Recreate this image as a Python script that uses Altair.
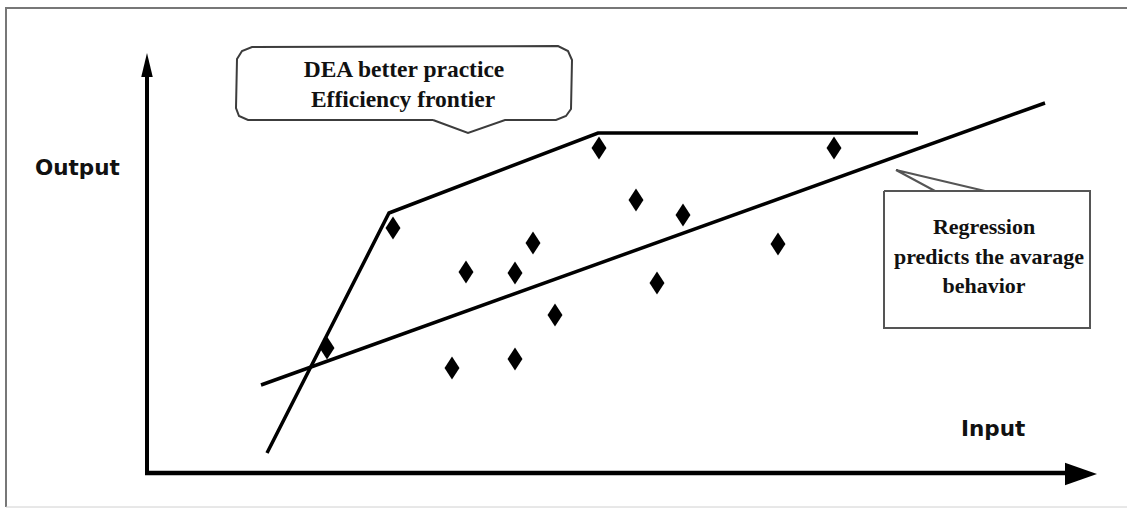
import altair as alt
import pandas as pd

W, H = 1127, 508

# All coordinates (pixel-like units, y grows downward)
# DEA frontier vertices
dea_x = [267, 389, 598, 918]
dea_y = [453, 213, 133, 133]
# Regression line end points
reg_x = [261, 1045]
reg_y = [385, 103]
# Observations (DMUs)
pts_x = [327, 393, 452, 466, 515, 515, 533, 555, 599, 636, 657, 683, 778, 834]
pts_y = [348, 228, 368, 272, 273, 359, 243, 315, 148, 200, 283, 215, 244, 148]

# Axes
yaxis_x = [147, 147]
yaxis_y = [474, 74]
xaxis_x = [145, 1068]
xaxis_y = [473, 473]
arrow_x = [147, 1081]
arrow_y = [65, 474]
arrow_shape = ["M0,-1L0.48,1L-0.48,1Z", "M1,0L-1,-0.7L-1,0.7Z"]
arrow_size = [576, 1024]

# Callout 1 outline (rounded box with pointer)
c1_x = [433, 468, 505, 556, 566, 571, 572, 568, 558, 252, 242, 237, 236, 239, 248, 433]
c1_y = [120, 133, 120, 120, 116, 109, 60, 51, 46, 47, 51, 59, 108, 116, 120, 120]
# Callout 2 box and pointer
c2_x = [884, 1090, 1090, 884, 884]
c2_y = [191, 191, 328, 328, 191]
p2_x = [935, 896, 985]
p2_y = [191, 170, 191]

# Frame
frame_x = [6, 6, 1127]
frame_y = [507, 8, 8]

# Labels
serif_text = ["DEA better practice", "Efficiency frontier", "Regression",
              "predicts the avarage", "behavior"]
serif_x = [404, 403, 984, 989, 984]
serif_y = [77, 107, 234, 264, 293]
serif_size = [23.5, 23.5, 22, 22, 22]
sans_text = ["Output", "Input"]
sans_x = [35, 961]
sans_y = [175, 436]

xs = alt.Scale(domain=[0, W], nice=False, zero=False)
ys = alt.Scale(domain=[H, 0], nice=False, zero=False)


def poly(xv, yv):
    return pd.DataFrame({"x": xv, "y": yv, "o": list(range(len(xv)))})


def path_layer(xv, yv, color, width):
    return alt.Chart(poly(xv, yv)).mark_line(
        color=color, strokeWidth=width, strokeJoin="miter", strokeCap="butt"
    ).encode(
        x=alt.X("x:Q", scale=xs, axis=None),
        y=alt.Y("y:Q", scale=ys, axis=None),
        order="o:Q",
    )


frame = path_layer(frame_x, frame_y, "#777777", 2)
bottom = path_layer([6, 1127], [507, 507], "#d0d0d0", 1)
call1 = path_layer(c1_x, c1_y, "#3c3c3c", 2)
call2 = path_layer(c2_x, c2_y, "#555555", 2)
ptr2 = path_layer(p2_x, p2_y, "#555555", 2)
dea = path_layer(dea_x, dea_y, "black", 3.5)
reg = path_layer(reg_x, reg_y, "black", 3.5)
yax = path_layer(yaxis_x, yaxis_y, "black", 4)
xax = path_layer(xaxis_x, xaxis_y, "black", 4.5)

arrows = alt.Chart(pd.DataFrame({"x": arrow_x, "y": arrow_y, "s": arrow_shape,
                                 "sz": arrow_size})).mark_point(
    filled=True, color="black", opacity=1, strokeWidth=0
).encode(
    x=alt.X("x:Q", scale=xs, axis=None),
    y=alt.Y("y:Q", scale=ys, axis=None),
    shape=alt.Shape("s:N", scale=None),
    size=alt.Size("sz:Q", scale=None),
)

pts = alt.Chart(pd.DataFrame({"x": pts_x, "y": pts_y})).mark_point(
    shape="M0,-1L0.65,0L0,1L-0.65,0Z", size=529, filled=True, color="black",
    opacity=1, strokeWidth=0
).encode(
    x=alt.X("x:Q", scale=xs, axis=None),
    y=alt.Y("y:Q", scale=ys, axis=None),
)

serif = alt.Chart(pd.DataFrame({"x": serif_x, "y": serif_y, "t": serif_text,
                                "fs": serif_size})).mark_text(
    font="Liberation Serif", fontWeight="bold", color="#111111",
    align="center", baseline="alphabetic"
).encode(
    x=alt.X("x:Q", scale=xs, axis=None),
    y=alt.Y("y:Q", scale=ys, axis=None),
    text="t:N",
    size=alt.Size("fs:Q", scale=None),
)

sans = alt.Chart(pd.DataFrame({"x": sans_x, "y": sans_y, "t": sans_text})).mark_text(
    font="DejaVu Sans", fontWeight="bold", fontSize=21.5, color="#111111",
    align="left", baseline="alphabetic"
).encode(
    x=alt.X("x:Q", scale=xs, axis=None),
    y=alt.Y("y:Q", scale=ys, axis=None),
    text="t:N",
)

chart = alt.layer(
    frame, bottom, call1, call2, ptr2, dea, reg, pts, yax, xax, arrows, serif, sans
).properties(
    width=W, height=H, padding=0, autosize=alt.AutoSizeParams(type="none"),
    background="white",
).configure_view(stroke=None)

chart.save("out.html", embed_options={"renderer": "svg", "actions": False})
